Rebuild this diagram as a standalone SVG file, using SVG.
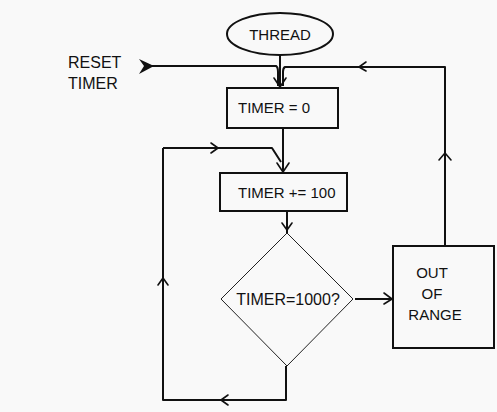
<svg xmlns="http://www.w3.org/2000/svg" width="497" height="412" viewBox="0 0 497 412">
  <style>
    .bg { fill: #f9f9f9; }
    .shape { fill: none; stroke: #111; stroke-width: 2; }
    .thin { fill: none; stroke: #222; stroke-width: 1; }
    .line { fill: none; stroke: #111; stroke-width: 2; stroke-linejoin: round; }
    .head { fill: none; stroke: #111; stroke-width: 1.6; stroke-linecap: round; stroke-linejoin: round; }
    .label { font-family: "Liberation Sans", Arial, sans-serif; font-size: 15px; fill: #111; }
    .big { font-size: 16px; }
  </style>
  <rect class="bg" width="497" height="412"/>

  <g id="connectors">
    <!-- reset timer input -->
    <path class="line" d="M146 66 H276 Q278 67 278 72 V86"/>
    <path d="M139 59 L154 66 L139 74 L144 66 Z" fill="#111"/>
    <!-- thread into first box -->
    <path class="line" d="M280 55 V87" stroke-width="1.6"/>
    <!-- out of range return -->
    <path class="line" d="M445 246 V67 H285 Q283 68 283 72 V86"/>
    <path class="head" d="M274 78 L280 87 L286 78"/>
    <path class="head" d="M366 62 L359 67 L366 71"/>
    <path class="head" d="M439 160 L445 153 L451 160"/>
    <!-- first box to increment box -->
    <path class="line" d="M283 128 V172"/>
    <path class="head" d="M277 163 L283 172 L289 163"/>
    <!-- loop back -->
    <path class="line" d="M163 148 H272 L281 162"/>
    <path class="head" d="M211 143 L218 148 L211 153"/>
    <!-- increment box to decision -->
    <path class="line" d="M287 211 V233"/>
    <path class="head" d="M282 223 L287 230 L292 223"/>
    <!-- decision to out of range -->
    <path class="line" d="M355 299 H392"/>
    <path class="head" d="M384 293 L392 299 L384 304"/>
    <!-- decision bottom back round -->
    <path class="line" d="M286 366 V400 H163 V148"/>
    <path class="head" d="M228 395 L221 400 L228 405"/>
    <path class="head" d="M158 285 L163 278 L168 285"/>
  </g>

  <g id="reset-label">
    <text class="label big" x="68" y="68">RESET</text>
    <text class="label big" x="68" y="89">TIMER</text>
  </g>

  <g id="thread">
    <ellipse class="shape" cx="280" cy="34" rx="53" ry="21"/>
    <text class="label" x="280" y="40" text-anchor="middle">THREAD</text>
  </g>

  <g id="timer-zero">
    <rect class="shape" x="227" y="88" width="111" height="40"/>
    <text class="label" x="238" y="113">TIMER = 0</text>
  </g>

  <g id="timer-inc">
    <rect class="shape" x="220" y="173" width="127" height="38"/>
    <text class="label" x="238" y="198">TIMER += 100</text>
  </g>

  <g id="decision">
    <polygon class="thin" points="287,233 353,299 287,366 221,299"/>
    <text class="label big" x="288" y="305" text-anchor="middle">TIMER=1000?</text>
  </g>

  <g id="out-of-range">
    <rect class="shape" x="393" y="246" width="101" height="102"/>
    <text class="label" x="432" y="278" text-anchor="middle">OUT</text>
    <text class="label" x="432" y="299" text-anchor="middle">OF</text>
    <text class="label" x="435" y="320" text-anchor="middle">RANGE</text>
  </g>
</svg>
